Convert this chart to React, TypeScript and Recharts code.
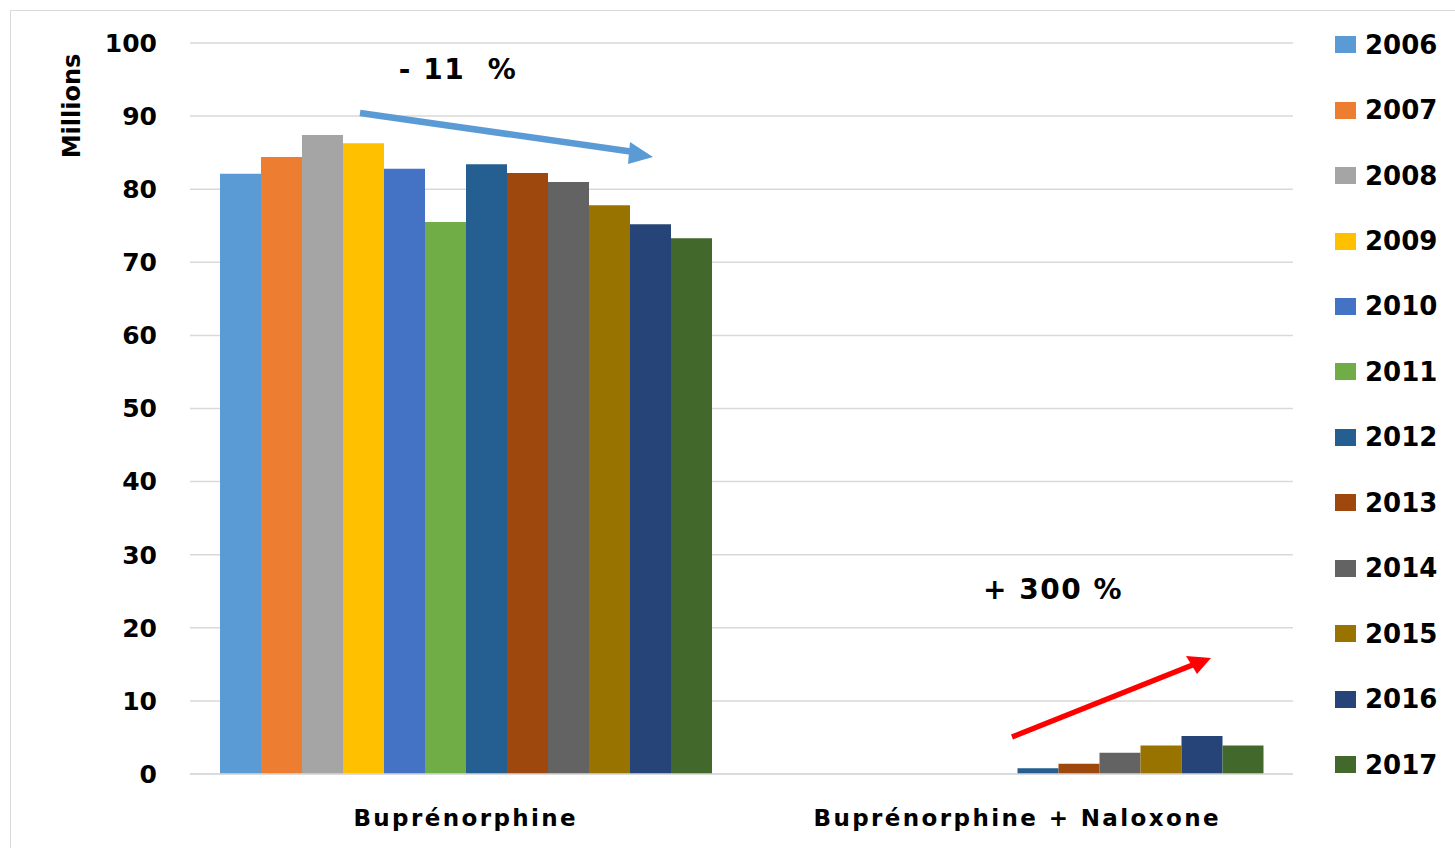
import React from "react";
import { BarChart, Bar, XAxis, YAxis, CartesianGrid } from "recharts";

const CATEGORIES = ["Buprénorphine", "Buprénorphine + Naloxone"];
const YEARS = ["2006", "2007", "2008", "2009", "2010", "2011", "2012", "2013", "2014", "2015", "2016", "2017"];
const BUPRENORPHINE = [82.1, 84.4, 87.4, 86.3, 82.8, 75.5, 83.4, 82.2, 81.0, 77.8, 75.2, 73.3];
const BUP_NALOXONE = [null, null, null, null, null, null, 0.8, 1.4, 2.9, 3.9, 5.2, 3.9];
const Y_TICKS = [0, 10, 20, 30, 40, 50, 60, 70, 80, 90, 100];

const YEAR_COLORS = [
  "#5b9bd5", "#ed7d31", "#a5a5a5", "#ffc000", "#4472c4", "#70ad47",
  "#255e91", "#9e480e", "#636363", "#997300", "#264478", "#43682b",
];

const FONT = "'DejaVu Sans', sans-serif";
const GRID = "#d9d9d9";

const seriesByCategory = [BUPRENORPHINE, BUP_NALOXONE];
const chartData = CATEGORIES.map((name, ci) => {
  const row: Record<string, string | number | null> = { name };
  YEARS.forEach((y, yi) => {
    row[y] = seriesByCategory[ci][yi];
  });
  return row;
});

export default function App() {
  return (
    <div style={{ position: "absolute", left: 0, top: 0, width: 1455, height: 848, overflow: "hidden", background: "#fff", fontFamily: FONT }}>
      {/* frame */}
      <div style={{ position: "absolute", left: 10, top: 10, width: 1480, height: 880, border: `1px solid ${GRID}` }} />

      <BarChart
        width={1455}
        height={848}
        data={chartData}
        margin={{ top: 43, right: 162, left: 0, bottom: 0 }}
        barGap={0}
        barCategoryGap="5.6%"
        style={{ position: "absolute", left: 0, top: 0 }}
      >
        <CartesianGrid vertical={false} stroke={GRID} strokeWidth={1.5} />
        <XAxis
          dataKey="name"
          height={74}
          axisLine={{ stroke: GRID, strokeWidth: 1.5 }}
          tickLine={false}
          tickSize={0}
          tickMargin={36}
          tick={{ fontSize: 23, fill: "#000", fontWeight: 700, fontFamily: FONT, letterSpacing: 2.4 }}
        />
        <YAxis
          width={190}
          domain={[0, 100]}
          ticks={Y_TICKS}
          axisLine={false}
          tickLine={false}
          tickSize={0}
          tickMargin={33}
          tick={{ fontSize: 25, fill: "#000", fontWeight: 700, fontFamily: FONT }}
        />
        {YEARS.map((y, i) => (
          <Bar key={y} dataKey={y} fill={YEAR_COLORS[i]} barSize={41} isAnimationActive={false} />
        ))}
      </BarChart>

      {/* annotations */}
      <svg width={1455} height={848} style={{ position: "absolute", left: 0, top: 0, pointerEvents: "none" }}>
        <text
          x={72}
          y={106}
          transform="rotate(-90 72 106)"
          textAnchor="middle"
          dominantBaseline="central"
          fontSize={24}
          fontWeight={700}
          fontFamily={FONT}
          fill="#000"
        >
          Millions
        </text>
        <text x={458} y={69} textAnchor="middle" dominantBaseline="central" fontSize={28} fontWeight={700} fontFamily={FONT} fill="#000" letterSpacing={1.5} xmlSpace="preserve">
          {"- 11  %"}
        </text>
        <text x={1053} y={589} textAnchor="middle" dominantBaseline="central" fontSize={28} fontWeight={700} fontFamily={FONT} fill="#000" letterSpacing={1.5}>
          + 300 %
        </text>
        <line x1={360} y1={113} x2={634} y2={152} stroke="#5b9bd5" strokeWidth={6.5} />
        <polygon points="630,142 653,157 628,164" fill="#5b9bd5" />
        <line x1={1012} y1={737} x2={1195} y2={664} stroke="#ff0000" strokeWidth={5.5} />
        <polygon points="1186,656 1211,658 1197,674" fill="#ff0000" />
      </svg>

      {/* legend */}
      <div style={{ position: "absolute", left: 1335, top: 12, display: "flex", flexDirection: "column" }}>
        {YEARS.map((y, i) => (
          <div key={y} style={{ height: 65.45, display: "flex", alignItems: "center" }}>
            <span style={{ width: 21, height: 17, background: YEAR_COLORS[i], display: "inline-block", marginRight: 9 }} />
            <span style={{ fontSize: 26, fontWeight: 700, color: "#000", fontFamily: FONT, lineHeight: 1 }}>{y}</span>
          </div>
        ))}
      </div>
    </div>
  );
}
